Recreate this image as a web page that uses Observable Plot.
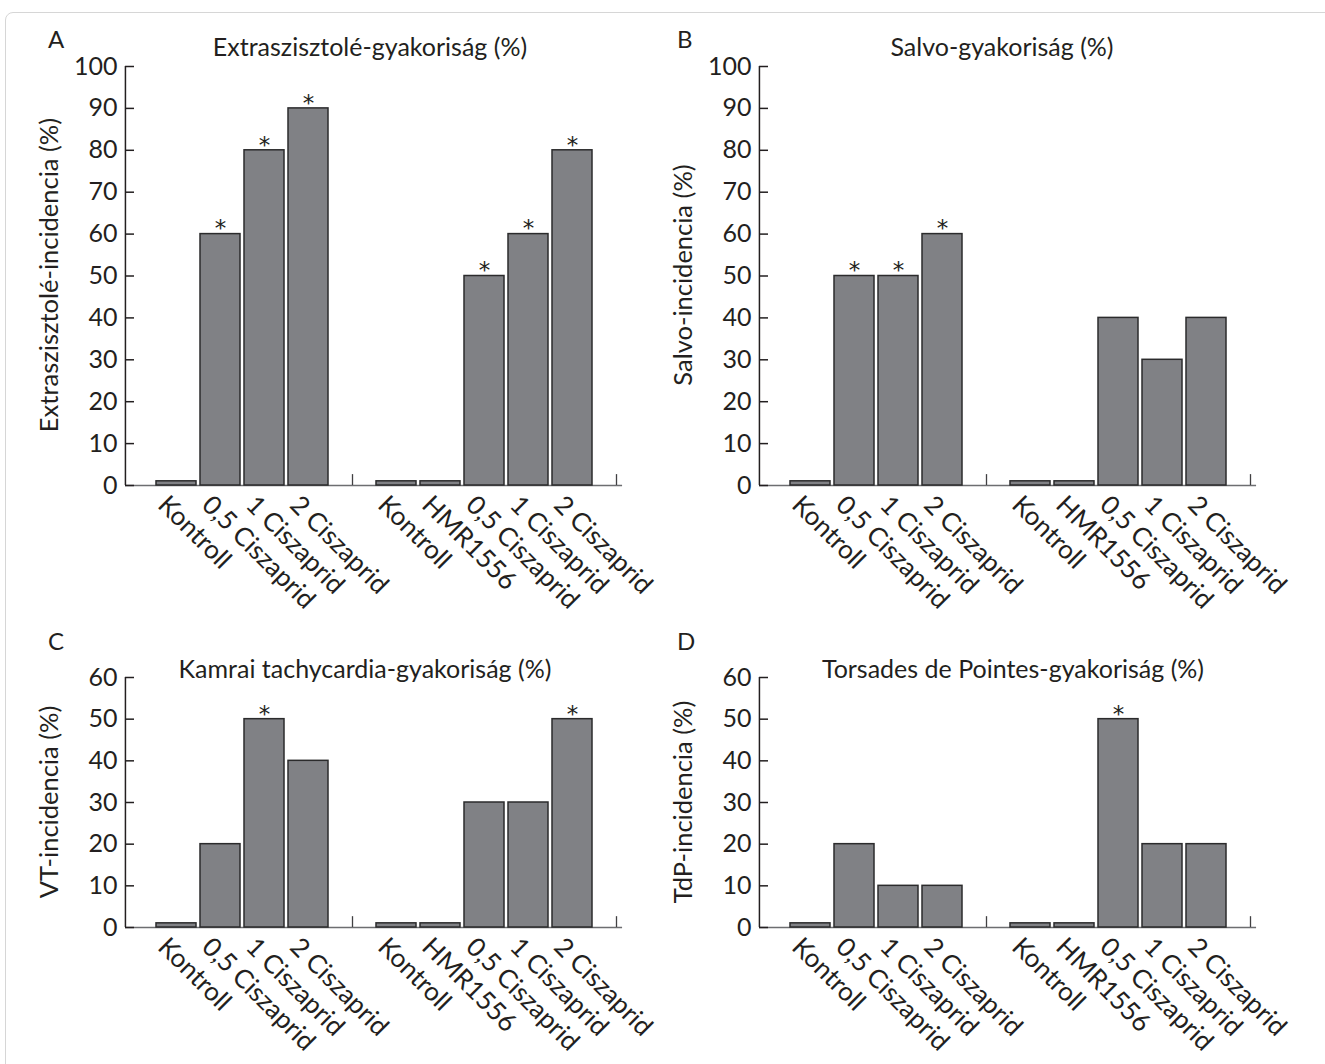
<!DOCTYPE html>
<html><head><meta charset="utf-8">
<script src="https://cdn.jsdelivr.net/npm/d3@7"></script>
<script src="https://cdn.jsdelivr.net/npm/@observablehq/plot@0.6"></script>
<style>
html,body{margin:0;padding:0;background:#fff}
body{width:1325px;height:1064px;overflow:hidden;position:relative;font-family:Lato,sans-serif;color:#231f20}
.frameBorder{position:absolute;left:5px;top:12px;width:1400px;height:1200px;border:1px solid #d6d6d6;border-radius:8px;box-sizing:border-box}
.panel{position:absolute}
.panel svg{overflow:visible;max-width:none}
.letter{position:absolute;font-size:24px;line-height:1;white-space:nowrap}
.title{position:absolute;font-size:25px;line-height:1;white-space:nowrap;transform:translateX(-50%)}
.ylab{position:absolute;font-size:25.5px;line-height:1;white-space:nowrap;transform:translate(-50%,-50%) rotate(-90deg)}
</style></head><body>
<div class="frameBorder"></div>
<script>
// ---- data ----
const group1 = ["Kontroll", "0,5 Ciszaprid", "1 Ciszaprid", "2 Ciszaprid"];
const group2 = ["Kontroll", "HMR1556", "0,5 Ciszaprid", "1 Ciszaprid", "2 Ciszaprid"];

const extraValues = [1, 60, 80, 90, 1, 1, 50, 60, 80];
const extraStars  = [0, 1, 1, 1, 0, 0, 1, 1, 1];
const salvoValues = [1, 50, 50, 60, 1, 1, 40, 30, 40];
const salvoStars  = [0, 1, 1, 1, 0, 0, 0, 0, 0];
const vtValues    = [1, 20, 50, 40, 1, 1, 30, 30, 50];
const vtStars     = [0, 0, 1, 0, 0, 0, 0, 0, 1];
const tdpValues   = [1, 20, 10, 10, 1, 1, 50, 20, 20];
const tdpStars    = [0, 0, 0, 0, 0, 0, 1, 0, 0];

const ticks100 = [0, 10, 20, 30, 40, 50, 60, 70, 80, 90, 100];
const ticks60  = [0, 10, 20, 30, 40, 50, 60];

const panelLetters = ["A", "B", "C", "D"];
const panelTitles = ["Extraszisztolé-gyakoriság (%)", "Salvo-gyakoriság (%)", "Kamrai tachycardia-gyakoriság (%)", "Torsades de Pointes-gyakoriság (%)"];
const yLabels = ["Extraszisztolé-incidencia (%)", "Salvo-incidencia (%)", "VT-incidencia (%)", "TdP-incidencia (%)"];

// ---- layout ----
const barKeys = [...group1.map(g => "1|" + g), ...group2.map(g => "2|" + g)];
const slotDomain = [...group1.map(g => "1|" + g), "gap", ...group2.map(g => "2|" + g), "end"];
const W = 662, ML = 125, X0 = 31, STEP = 44.6, PI = 0.1, TICK = 9;
const BW = STEP * (1 - PI);
const FRAME_RIGHT = ML + X0 + STEP * (slotDomain.length - 1) + BW / 2;
const rows = [
  {top: 0, height: 620, frameTop: 66, frameBottom: 485, titleBase: 56, letterBase: 48, ylabY: 275},
  {top: 620, height: 444, frameTop: 57, frameBottom: 307, titleBase: 678, letterBase: 650, ylabY: 802}
];
const cols = [
  {left: 0, letterX: 48, ylabX: 49, titleX: [370, 365]},
  {left: 634, letterX: 677, ylabX: 683, titleX: [1002, 1013]}
];
const panels = [
  {values: extraValues, stars: extraStars, yMax: 100, ticks: ticks100, row: 0, col: 0},
  {values: salvoValues, stars: salvoStars, yMax: 100, ticks: ticks100, row: 0, col: 1},
  {values: vtValues, stars: vtStars, yMax: 60, ticks: ticks60, row: 1, col: 0},
  {values: tdpValues, stars: tdpStars, yMax: 60, ticks: ticks60, row: 1, col: 1}
];

function addDiv(cls, text, style) {
  const d = document.createElement("div");
  d.className = cls; d.textContent = text;
  Object.assign(d.style, style);
  document.body.appendChild(d);
}

panels.forEach((p, idx) => {
  const row = rows[p.row], col = cols[p.col];
  const data = barKeys.map((key, i) => ({key, value: p.values[i], star: p.stars[i] === 1}));
  const frameW = FRAME_RIGHT - ML;
  const svg = Plot.plot({
    width: W, height: row.height,
    marginLeft: ML, marginRight: W - FRAME_RIGHT,
    marginTop: row.frameTop, marginBottom: row.height - row.frameBottom,
    style: {fontFamily: "Lato, sans-serif", fontSize: "25px", color: "#231f20", background: "transparent", overflow: "visible"},
    x: {type: "band", domain: slotDomain, range: [ML + X0, ML + X0 + STEP * (slotDomain.length - PI)], paddingInner: PI, paddingOuter: 0, align: 0},
    y: {domain: [0, p.yMax]},
    marks: [
      Plot.ruleY([0], {stroke: "#6d6e71", strokeWidth: 1.5}),
      Plot.ruleX(["gap", "end"], {x: d => d, y1: 0, y2: 2.6, stroke: "#414042", strokeWidth: 1.3}),
      Plot.barY(data, {x: "key", y: "value", fill: "#808185", stroke: "#2b2b2c", strokeWidth: 1.5}),
      Plot.ruleX([barKeys[0]], {x: d => d, y1: 0, y2: p.yMax, dx: -(X0 + BW / 2), stroke: "#231f20", strokeWidth: 1.5}),
      Plot.ruleY(p.ticks, {y: d => d, insetRight: frameW - TICK, stroke: "#231f20", strokeWidth: 1.5}),
      Plot.axisY(p.ticks, {tickSize: 0, tickPadding: 8, label: null, fontSize: 25, fill: "#231f20"}),
      Plot.axisX(barKeys, {tickRotate: 45, tickSize: 0, tickPadding: 15, dx: -14, tickFormat: k => k.split("|")[1], label: null, fontSize: 26, fill: "#231f20"}),
      Plot.text(data.filter(d => d.star), {x: "key", y: "value", text: () => "*", dy: -5, fontSize: 23, fontFamily: "DejaVu Sans", fill: "#231f20"})
    ]
  });
  const holder = document.createElement("div");
  holder.className = "panel";
  holder.style.left = col.left + "px";
  holder.style.top = row.top + "px";
  holder.appendChild(svg);
  document.body.appendChild(holder);

  addDiv("letter", panelLetters[idx], {left: col.letterX + "px", top: (row.letterBase - 0.887 * 24) + "px"});
  addDiv("title", panelTitles[idx], {left: col.titleX[p.row] + "px", top: (row.titleBase - 0.887 * 25) + "px"});
  addDiv("ylab", yLabels[idx], {left: col.ylabX + "px", top: row.ylabY + "px"});
});
</script>
</body></html>
